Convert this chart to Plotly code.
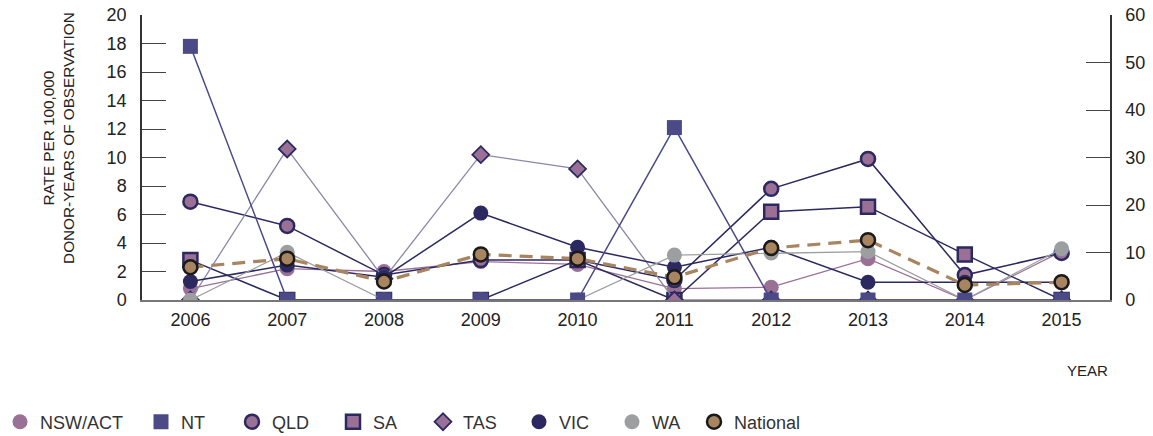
import plotly.graph_objects as go

years = [2006, 2007, 2008, 2009, 2010, 2011, 2012, 2013, 2014, 2015]
nsw_act = [0.8, 2.2, 2.0, 2.7, 2.5, 0.8, 0.9, 2.9, 0.0, 3.4]
nt = [17.8, 0.0, 0.0, 0.0, 0.0, 12.1, 0.0, 0.0, 0.0, 0.0]
qld = [6.9, 5.2, 1.75, 2.8, 2.8, 1.4, 7.8, 9.9, 1.75, 3.3]
sa = [2.8, 0.0, 0.0, 0.0, 2.8, 0.0, 6.2, 6.55, 3.2, 0.0]
tas = [0.0, 10.6, 1.5, 10.2, 9.2, 0.0, 0.0, 0.0, 0.0, 0.0]
vic = [1.3, 2.45, 1.6, 6.1, 3.7, 2.3, 3.7, 1.25, 1.25, 1.25]
wa = [0.0, 3.35, 0.0, 0.0, 0.0, 3.15, 3.3, 3.4, 0.0, 3.6]
national = [2.3, 2.9, 1.3, 3.2, 2.9, 1.6, 3.65, 4.2, 1.05, 1.25]

left_ticks = list(range(0, 21, 2))
right_ticks = list(range(0, 61, 10))

MAUVE = "#9b7096"
NTC = "#4b4a87"
NAVY = "#2b2960"
TASL = "#8b87aa"
GRAY = "#9d9ea0"
BROWN = "#a88460"
FONT = "Liberation Sans, Arial, sans-serif"

series = {
    "NSW/ACT": dict(y=nsw_act, line=dict(color=MAUVE, width=1.3),
                    marker=dict(symbol="circle", size=15, color=MAUVE, line=dict(color=MAUVE, width=0))),
    "NT": dict(y=nt, line=dict(color=NTC, width=1.5),
               marker=dict(symbol="square", size=15, color=NTC, line=dict(color=NTC, width=0))),
    "QLD": dict(y=qld, line=dict(color=NAVY, width=1.5),
                marker=dict(symbol="circle", size=14, color=MAUVE, line=dict(color=NAVY, width=2.5))),
    "SA": dict(y=sa, line=dict(color=NAVY, width=1.5),
               marker=dict(symbol="square", size=14, color=MAUVE, line=dict(color=NAVY, width=2.5))),
    "TAS": dict(y=tas, line=dict(color=TASL, width=1.3),
                marker=dict(symbol="diamond", size=13, color=MAUVE, line=dict(color=NAVY, width=1.8))),
    "VIC": dict(y=vic, line=dict(color=NAVY, width=1.5),
                marker=dict(symbol="circle", size=15, color=NAVY, line=dict(color=NAVY, width=0))),
    "WA": dict(y=wa, line=dict(color=GRAY, width=1.3),
               marker=dict(symbol="circle", size=15, color=GRAY, line=dict(color=GRAY, width=0))),
    "National": dict(y=national, line=dict(color=BROWN, width=3.2, dash="13px,8px"),
                     marker=dict(symbol="circle", size=14, color=BROWN, line=dict(color="#1a1a1a", width=2.5))),
}

legend_order = ["NSW/ACT", "NT", "QLD", "SA", "TAS", "VIC", "WA", "National"]
legend_symbol_px = [16, 162, 253, 354, 444, 540, 633, 715]
draw_order = ["NSW/ACT", "QLD", "SA", "TAS", "VIC", "WA", "NT", "National"]

fig = go.Figure()
for name in draw_order:
    s = series[name]
    fig.add_trace(go.Scatter(x=years, y=s["y"], mode="lines+markers", name=name,
                             line=s["line"], marker=s["marker"], showlegend=False))

legend_layouts = {}
for i, name in enumerate(legend_order):
    s = series[name]
    lg = "legend" if i == 0 else f"legend{i + 1}"
    fig.add_trace(go.Scatter(x=[None], y=[None], mode="markers", name=name,
                             marker=s["marker"], showlegend=True, legend=lg))
    legend_layouts[lg] = dict(
        orientation="h", xref="container", yref="container",
        x=(legend_symbol_px[i] - 21) / 1153, xanchor="left",
        y=1 - 422 / 436, yanchor="middle",
        font=dict(size=18, color="#333", family=FONT), itemwidth=30,
        bgcolor="rgba(0,0,0,0)",
    )

# right axis carrier
fig.add_trace(go.Scatter(x=[None], y=[None], yaxis="y2", showlegend=False, hoverinfo="skip"))

fig.update_layout(
    width=1153, height=436,
    margin=dict(l=142, r=43, t=15, b=136, autoexpand=False),
    paper_bgcolor="white", plot_bgcolor="white",
    font=dict(family=FONT, size=18, color="#222"),
    xaxis=dict(range=[2005.5, 2015.5], tickvals=years, ticktext=[str(y) for y in years],
               showgrid=False, zeroline=False, showline=True, linecolor="#777", linewidth=2,
               ticks="", ticklabelstandoff=2, tickfont=dict(size=18)),
    yaxis=dict(range=[0, 20], tickvals=left_ticks, showgrid=False, zeroline=False,
               showline=True, linecolor="#333", linewidth=1.5,
               ticks="inside", ticklen=24, tickcolor="#444", tickwidth=1.3,
               ticklabelstandoff=10, tickfont=dict(size=18)),
    yaxis2=dict(range=[0, 60], tickvals=right_ticks, overlaying="y", side="right",
                showgrid=False, zeroline=False, showline=True, linecolor="#333", linewidth=1.5,
                ticks="inside", ticklen=24, tickcolor="#444", tickwidth=1.3,
                ticklabelstandoff=10, tickfont=dict(size=18)),
    annotations=[
        dict(text="RATE PER 100,000<br>DONOR-YEARS OF OBSERVATION", textangle=-90,
             xref="paper", yref="paper", x=-0.087, y=0.568, xanchor="center", yanchor="middle",
             showarrow=False, font=dict(size=15.3, color="#222")),
        dict(text="YEAR", xref="paper", yref="paper", x=1.0, y=-0.249, xanchor="right",
             yanchor="middle", showarrow=False, font=dict(size=15, color="#222")),
    ],
    **legend_layouts,
)

fig.write_html("out.html", config={"displayModeBar": False})

# remove the default page margin so the figure sits at the window's top-left corner
with open("out.html", "r", encoding="utf-8") as f:
    html = f.read()
html = html.replace("<head>", "<head><style>html,body{margin:0;padding:0;overflow:hidden;}</style>", 1)
with open("out.html", "w", encoding="utf-8") as f:
    f.write(html)
